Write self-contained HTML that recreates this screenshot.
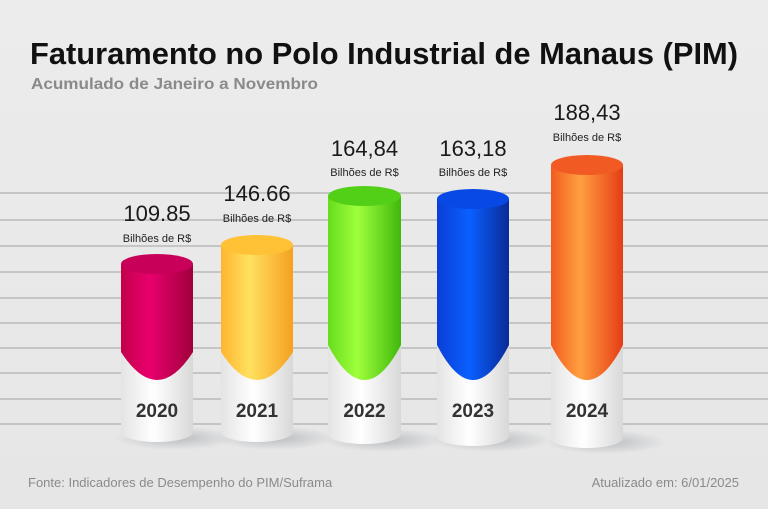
<!DOCTYPE html>
<html><head><meta charset="utf-8"><style>
html,body{margin:0;padding:0;background:#e9e9e9;}
svg{display:block;font-family:"Liberation Sans",sans-serif;}
</style></head><body>
<svg width="768" height="509" viewBox="0 0 768 509" xmlns="http://www.w3.org/2000/svg">
<defs>
<linearGradient id="bg" x1="0" y1="0" x2="0" y2="1"><stop offset="0" stop-color="#ececec"/><stop offset="1" stop-color="#e6e6e6"/></linearGradient>
<linearGradient id="w" x1="0" x2="1"><stop offset="0" stop-color="#e4e4e4"/><stop offset="0.45" stop-color="#ffffff"/><stop offset="1" stop-color="#d8d8d8"/></linearGradient>
<linearGradient id="c0" x1="0" x2="1"><stop offset="0" stop-color="#c4004c"/><stop offset="0.4" stop-color="#e8006c"/><stop offset="1" stop-color="#a0003c"/></linearGradient>
<linearGradient id="c1" x1="0" x2="1"><stop offset="0" stop-color="#ffb52e"/><stop offset="0.4" stop-color="#ffe060"/><stop offset="1" stop-color="#f5a020"/></linearGradient>
<linearGradient id="c2" x1="0" x2="1"><stop offset="0" stop-color="#66dc1c"/><stop offset="0.4" stop-color="#a0ff3c"/><stop offset="1" stop-color="#40b80c"/></linearGradient>
<linearGradient id="c3" x1="0" x2="1"><stop offset="0" stop-color="#0a3ed6"/><stop offset="0.45" stop-color="#0a60ff"/><stop offset="1" stop-color="#0a2a98"/></linearGradient>
<linearGradient id="c4" x1="0" x2="1"><stop offset="0" stop-color="#f25a1e"/><stop offset="0.4" stop-color="#ffa040"/><stop offset="1" stop-color="#e63c16"/></linearGradient>
<radialGradient id="sh"><stop offset="0" stop-color="#9aa0a8" stop-opacity="0.6"/><stop offset="1" stop-color="#9aa0a8" stop-opacity="0"/></radialGradient>
</defs>
<rect width="768" height="509" fill="url(#bg)"/>
<g stroke="#b9b9b9" stroke-width="1.6">
<line x1="0" y1="193" x2="768" y2="193"/><line x1="0" y1="220" x2="768" y2="220"/><line x1="0" y1="246" x2="768" y2="246"/><line x1="0" y1="272" x2="768" y2="272"/><line x1="0" y1="298" x2="768" y2="298"/><line x1="0" y1="323" x2="768" y2="323"/><line x1="0" y1="348" x2="768" y2="348"/><line x1="0" y1="373" x2="768" y2="373"/><line x1="0" y1="399" x2="768" y2="399"/><line x1="0" y1="424" x2="768" y2="424"/>
</g>
<text x="30" y="64" font-size="31" font-weight="bold" fill="#111" textLength="708" lengthAdjust="spacingAndGlyphs">Faturamento no Polo Industrial de Manaus (PIM)</text>
<text x="31" y="89" font-size="16" font-weight="bold" fill="#8a8a8a" textLength="287" lengthAdjust="spacingAndGlyphs">Acumulado de Janeiro a Novembro</text>

<g>
<ellipse cx="175" cy="438" rx="60" ry="12" fill="url(#sh)"/>
<path d="M121,350 L121,432 A36,10 0 0 0 193,432 L193,350 Z" fill="url(#w)"/>
<path d="M121,264 L121,352 Q157,408 193,352 L193,264 Z" fill="url(#c0)"/>
<ellipse cx="157" cy="264" rx="36" ry="10" fill="#c8005a"/>
<ellipse cx="275" cy="438" rx="60" ry="12" fill="url(#sh)"/>
<path d="M221,350 L221,432 A36,10 0 0 0 293,432 L293,350 Z" fill="url(#w)"/>
<path d="M221,245 L221,352 Q257,408 293,352 L293,245 Z" fill="url(#c1)"/>
<ellipse cx="257" cy="245" rx="36" ry="10" fill="#ffc236"/>
<ellipse cx="383" cy="440" rx="60" ry="12" fill="url(#sh)"/>
<path d="M328,345 L328,434 A36.5,10 0 0 0 401,434 L401,345 Z" fill="url(#w)"/>
<path d="M328,196 L328,345 Q364.5,415 401,345 L401,196 Z" fill="url(#c2)"/>
<ellipse cx="364.5" cy="196" rx="36.5" ry="10" fill="#52d018"/>
<ellipse cx="491" cy="440" rx="60" ry="12" fill="url(#sh)"/>
<path d="M437,345 L437,436 A36,10 0 0 0 509,436 L509,345 Z" fill="url(#w)"/>
<path d="M437,199 L437,345 Q473,415 509,345 L509,199 Z" fill="url(#c3)"/>
<ellipse cx="473" cy="199" rx="36" ry="10" fill="#0848e4"/>
<ellipse cx="605" cy="442" rx="60" ry="12" fill="url(#sh)"/>
<path d="M551,345 L551,438 A36,10 0 0 0 623,438 L623,345 Z" fill="url(#w)"/>
<path d="M551,165 L551,345 Q587,415 623,345 L623,165 Z" fill="url(#c4)"/>
<ellipse cx="587" cy="165" rx="36" ry="10" fill="#f25a24"/>
</g>

<g font-weight="bold" font-size="19" fill="#333" text-anchor="middle">
<text x="157" y="417">2020</text><text x="257" y="417">2021</text><text x="364.5" y="417">2022</text><text x="473" y="417">2023</text><text x="587" y="417">2024</text>
</g>
<g font-size="22" fill="#1a1a1a" text-anchor="middle">
<text x="157" y="221">109.85</text><text x="257" y="201">146.66</text><text x="364.5" y="156">164,84</text><text x="473" y="156">163,18</text><text x="587" y="120">188,43</text>
</g>
<g font-size="11" fill="#222" text-anchor="middle">
<text x="157" y="242">Bilhões de R$</text><text x="257" y="222">Bilhões de R$</text><text x="364.5" y="176">Bilhões de R$</text><text x="473" y="176">Bilhões de R$</text><text x="587" y="141">Bilhões de R$</text>
</g>
<text x="28" y="487" font-size="13" fill="#8a8a8a">Fonte: Indicadores de Desempenho do PIM/Suframa</text>
<text x="739" y="487" font-size="13" fill="#8a8a8a" text-anchor="end">Atualizado em: 6/01/2025</text>
</svg>
</body></html>
